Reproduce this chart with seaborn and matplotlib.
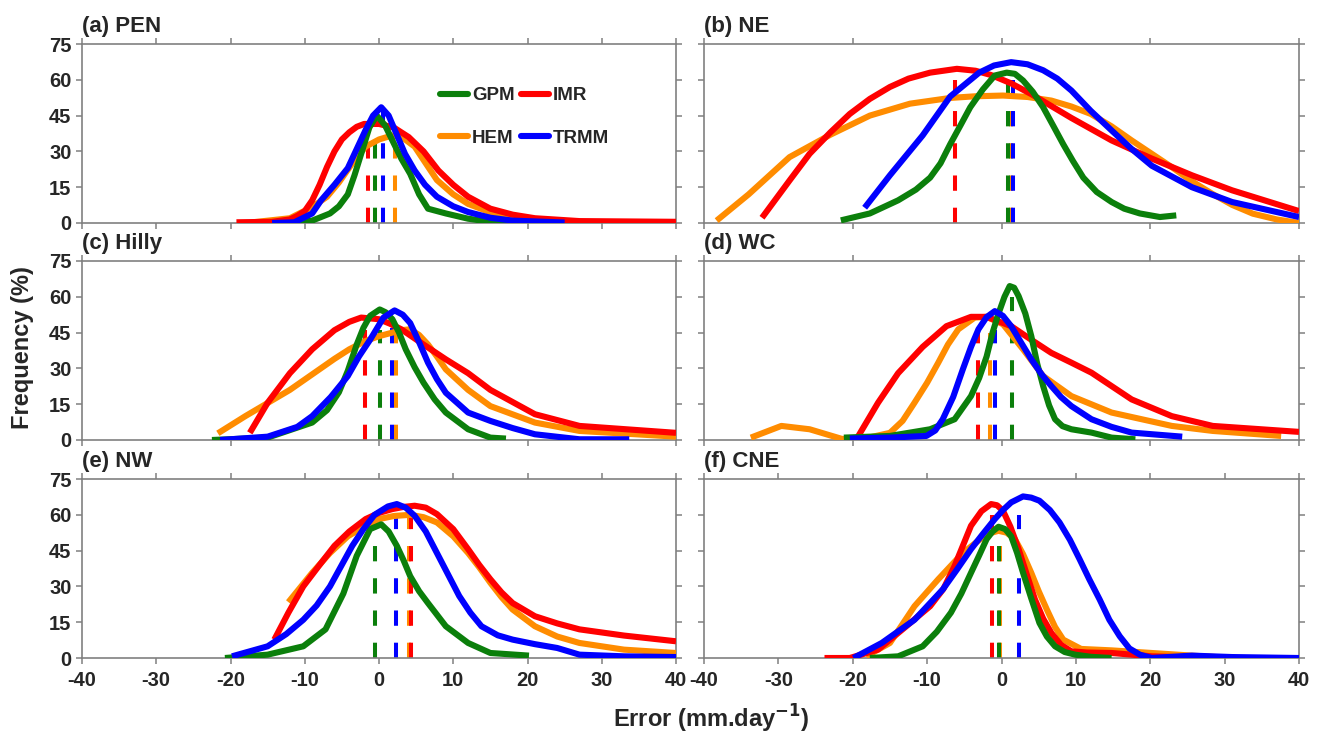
import matplotlib
matplotlib.use("Agg")
import matplotlib.pyplot as plt
import seaborn as sns
import pandas as pd
from matplotlib.lines import Line2D

# ---------------- data ----------------
regions = ["(a) PEN", "(b) NE", "(c) Hilly", "(d) WC", "(e) NW", "(f) CNE"]
products = ["HEM", "IMR", "GPM", "TRMM"]          # drawing order
legend_order = ["GPM", "HEM", "IMR", "TRMM"]
colors = {"GPM": "#0b7f0b", "IMR": "#ff0000", "HEM": "#ff8c00", "TRMM": "#0000ff"}
yticks = [0, 15, 30, 45, 60, 75]
xtick_labels = [-40, -30, -20, -10, 0, 10, 20, 30, 40]

pen = {
    "GPM": ([-11.4, -9, -6.6, -5.4, -4.2, -3.3, -2.4, -1.3, -0.3, 0.8, 1.8, 3, 4.2, 5.4, 6.6, 9, 12, 15, 18],
            [0, 1, 4, 7, 12, 20, 29, 40, 45, 41, 34.6, 27, 20.6, 12, 6, 4, 1.8, 0.5, 0]),
    "IMR": ([-19.2, -14.4, -12, -11, -10, -9, -8, -7, -6, -5, -4, -3, -2, 0, 2, 4, 6, 8, 10, 12,
             15, 18, 21, 27, 40],
            [0.3, 0.5, 1.5, 3, 5, 9.5, 16, 23.5, 30, 35, 38, 40.3, 41.5, 41.5, 40, 36, 30, 22, 16, 11,
             6, 3.5, 2, 0.8, 0.5]),
    "HEM": ([-17, -12, -9, -7, -5.4, -3.6, -1.8, 0, 1.8, 3.3, 4.8, 6.3, 7.8, 10, 12, 15, 18, 24],
            [0.3, 2, 6.7, 11, 17, 25, 32, 35, 36.7, 35.5, 32, 25, 18, 12, 8, 4.5, 2.5, 0.4]),
    "TRMM": ([-14.4, -11.4, -9, -7.8, -6, -4.2, -3, -1.8, -0.8, 0.3, 1.3, 2.4, 3.5, 4.8, 6.2, 7.8,
              10, 12, 15, 18, 25],
             [0, 0.3, 4, 9.5, 16, 23, 31, 39, 45, 48.5, 45, 37, 29, 22, 16, 11,
              7, 4.6, 2.2, 1, 0.2]),
}
ne = {
    "GPM": ([-21.6, -17.7, -13.9, -11.5, -9.6, -8.2, -6.9, -5.5, -4.2, -2.5, -0.9, 0.7, 1.8, 2.9,
             4.2, 5.6, 7, 8.3, 9.6, 11, 12.8, 14.8, 16.5, 18.6, 21.3, 23.5],
            [1.1, 4, 9.5, 14, 19, 25, 33, 41, 48.5, 56, 61.8, 63, 62.5, 59.7,
             55, 48.5, 40.5, 33, 26, 19, 13, 8.8, 6, 4, 2.5, 3.2]),
    "IMR": ([-32.2, -28.5, -25.8, -23, -20.4, -17.7, -15, -12.5, -9.6, -6, -3.5, -1.4, 1.3, 4,
             9.4, 14.8, 20.2, 25.6, 31, 40],
            [2.2, 17.8, 29, 38, 45.7, 52, 57, 60.5, 63, 64.6, 63.8, 62, 58.5, 54,
             44, 34.6, 27, 20, 13.7, 5]),
    "HEM": ([-38.3, -34, -28.5, -23, -17.7, -12.3, -6.9, -3.5, 0.2, 3.5, 6.7, 9.4, 12, 14.8,
             17.5, 20.2, 22.9, 25.6, 28.3, 31, 33.8, 37, 40],
            [1, 12, 27.6, 37, 45, 50, 52.4, 53.1, 53.4, 52.8, 51.3, 48.8, 45.7, 40.5,
             34.6, 29, 23.4, 17.5, 12.3, 7.6, 3.9, 1.5, 0]),
    "TRMM": ([-18.4, -15, -10.6, -6.9, -3, -1, 1.3, 3.5, 5.6, 7.5, 9.4, 12, 14.8, 17.5, 20.2,
              25.6, 31, 40],
             [6.4, 20, 36.7, 53, 63, 66, 67.4, 66.5, 64, 60.5, 55.5, 47, 38.8, 31, 24,
              15, 8.8, 2.5]),
}
hilly = {
    "GPM": ([-22.5, -15, -9, -7, -5.4, -4.2, -3, -2.1, -1.2, 0.1, 0.9, 1.8, 2.7, 3.6, 4.8, 6,
             7.5, 9, 12, 15, 17.1],
            [0, 1, 7.3, 12.5, 20, 29, 40, 47, 52, 54.7, 53.5, 50.6, 45, 38, 30.5, 24,
             17, 11.5, 4.5, 1, 0.6]),
    "IMR": ([-17.4, -15, -12, -9, -6, -4, -2.4, 0, 1.5, 3, 6, 9, 12, 15, 21, 27, 40],
            [3, 15.6, 28, 38, 46, 49.5, 51.3, 50.6, 48.7, 46.4, 40, 33.8, 28, 21, 10.8, 5.9, 3]),
    "HEM": ([-21.7, -18, -12, -9, -6, -4, -1.8, 0, 1.8, 3, 4.2, 5.4, 6.6, 7.8, 9, 12, 15, 21, 27, 40],
            [2.8, 10, 21, 27.5, 34, 38, 41.5, 43.5, 45, 46, 46.4, 44, 40, 35, 29.6, 21, 14.2,
             7.3, 3.8, 1.4]),
    "TRMM": ([-21.4, -15, -11, -9, -6.5, -4.2, -2.7, -1.2, 0.6, 2.1, 3.2, 4.2, 5.4, 6.6, 7.8, 9,
              12, 15, 18, 21, 27, 33.7],
             [0, 1.4, 5.5, 10, 18, 26.8, 35, 42, 51.3, 54.3, 52.5, 49, 41, 32.4, 25.5, 19.8,
              11.5, 8, 5, 2.4, 0.3, 0.3]),
}
wc = {
    "GPM": ([-21.2, -15, -9.6, -6.3, -4.1, -3, -2, -1.2, -0.4, 0.4, 1.1, 1.7, 2.3, 3.2, 4, 4.8,
             5.6, 6.4, 7.2, 8.2, 9.4, 12.1, 14.8, 18],
            [1, 1.7, 4.5, 8.7, 18.4, 26, 35, 45, 53, 60, 64.5, 63.8, 60.3, 53, 43.6, 32,
             22.6, 14.5, 8.7, 5.8, 4.5, 3.1, 1, 0.3]),
    "IMR": ([-19.3, -16.6, -13.9, -10.6, -7.4, -4.1, -2, 1.3, 4, 6.7, 9.4, 12.1, 17.5, 22.9, 28.4, 40],
            [1.4, 15.6, 28, 39, 47.7, 51.6, 51.6, 47.7, 42, 36.5, 32.4, 28.2, 17, 10, 5.9, 3.4]),
    "HEM": ([-33.7, -29.6, -25.8, -21.5, -19.3, -15, -13.3, -11.7, -10, -8.5, -7.2, -5.8, -3.6, -2,
             0.2, 2.9, 5.6, 9.4, 14.8, 22.9, 28.4, 37.6],
            [1, 5.9, 4.5, 0.5, 0, 3, 8, 15.6, 24, 32.4, 40, 46.4, 51.3, 51.6,
             48.5, 38, 26.8, 18.4, 11.5, 5.9, 3.8, 1.7]),
    "TRMM": ([-20.4, -15, -10.1, -8.9, -7.9, -6.5, -5.2, -4.1, -3.1, -2, -0.9, 0.2, 1.3, 2.6, 4,
              5.4, 6.7, 8, 9.4, 12.1, 14.8, 17.5, 24.3],
             [0.6, 1, 1.7, 4, 8.7, 18, 29.6, 39, 46.4, 51.5, 54, 52, 47.7, 41, 33.8,
              27.5, 22.6, 18, 14.2, 8.7, 5.5, 3.1, 1.4]),
}
nw = {
    "GPM": ([-20.75, -15, -10.2, -7.2, -4.8, -3, -1.2, 0.3, 1.3, 2.4, 3.3, 4.2, 5.4, 6.6, 9, 12, 15, 20.2],
            [0, 1.4, 4.9, 12, 27, 42.8, 54, 56, 53, 47, 41, 34.3, 28, 23, 13.3, 6.3, 2.1, 1]),
    "IMR": ([-14.1, -12.2, -10.2, -8, -6, -4, -1.8, 0, 1.8, 3.3, 4.8, 6.3, 7.8, 10, 12, 13.5, 15,
             16.5, 18, 21, 24, 27, 33, 40],
            [7.7, 19, 30, 39, 47, 53, 58.2, 60.8, 62.4, 63.3, 63.8, 63, 60.3, 54, 45.6, 39, 33,
             27.5, 23, 17.5, 14.5, 12, 9.4, 7]),
    "HEM": ([-12.2, -9, -6.6, -4.2, -2, 0, 2, 4.2, 6, 7.8, 10, 12, 13.5, 15, 16.5, 18, 21, 24, 27, 33, 40],
            [23.4, 35.7, 44, 51, 55, 58.2, 59.5, 60, 59, 56.8, 51, 44, 38, 31.5, 25.5, 20.3,
             13.3, 9, 6.3, 3.5, 2.1]),
    "TRMM": ([-19.8, -15, -12.5, -10.2, -8.4, -6.6, -5.1, -3.6, -2.1, -0.6, 1.2, 2.4, 3.6, 4.8,
              6.3, 7.8, 9.3, 10.8, 12.3, 13.8, 16, 18, 21, 24, 27, 33, 40],
             [0.7, 4.9, 10, 16, 22, 30, 38.5, 47, 54, 60, 63.5, 64.5, 63, 59.6,
              53, 44, 35, 26, 19, 13.3, 9.5, 7.7, 5.8, 4.2, 1.4, 0.7, 0.4]),
}
cne = {
    "GPM": ([-17.7, -13.9, -10.6, -8.7, -6.8, -5.4, -4.1, -3, -2, -1.2, -0.4, 0.5, 1.3, 2.1, 2.9,
             4, 5.1, 6.1, 7.2, 8.5, 9.9, 12, 14.8],
            [0, 0.7, 4.9, 11, 19, 27, 35.7, 43, 49.8, 53, 55, 54, 51, 44, 35.7,
             25, 14.7, 9, 4.9, 2.5, 1.4, 0.5, 0]),
    "IMR": ([-23.8, -20.4, -16.6, -12.8, -9.6, -7.8, -6.3, -5.2, -4.1, -2.7, -1.4, -0.6, 0.2, 1.2,
             2.3, 3.4, 4.5, 5.6, 6.7, 8, 9.4, 11.5, 14.8, 20.2, 28.4],
            [0, 0, 3.5, 13.3, 21.7, 29, 38.6, 47, 55.4, 61.5, 64.5, 64, 61.7, 55,
             45.6, 35, 24.5, 16.5, 10.5, 5.5, 2.8, 2.3, 2.1, 0.7, 0]),
    "HEM": ([-18.2, -15, -11.7, -8.5, -5.2, -2, -0.4, 0.7, 1.8, 2.9, 4, 5, 6.1, 7.2, 8.3, 10.7,
             14.8, 20.2, 25.6, 31],
            [0.7, 6.3, 21.7, 33, 44, 51.9, 53.3, 52.5, 49.8, 43.5, 35.7, 28, 20.3, 13, 7.7, 3.8,
             3.2, 2.1, 1, 0]),
    "TRMM": ([-19.9, -16.1, -11.7, -7.9, -6, -4.1, -2.5, -0.9, 0.2, 1.3, 2.9, 4, 5.1, 6.5, 7.8,
              9.2, 10.5, 11.8, 13.2, 14.5, 15.9, 17.2, 18.6, 20.2, 25.6, 31, 40],
             [0, 6.3, 16, 28.7, 37, 45.6, 52, 58.2, 62, 65.2, 67.7, 67.2, 65.9, 62, 56.8,
              49.5, 41.4, 33, 24.5, 16, 9.1, 4, 1.4, 0, 1, 0.4, 0]),
}

# mean error (x) and height of the dashed marker line for each product
pen_means = {"GPM": (-0.6, 44), "IMR": (-1.5, 41), "HEM": (2.1, 35), "TRMM": (0.5, 47)}
ne_means = {"GPM": (0.9, 60), "IMR": (-6.2, 60), "HEM": (1.3, 52), "TRMM": (1.5, 60)}
hilly_means = {"GPM": (0.2, 46), "IMR": (-1.9, 46), "HEM": (2.3, 45), "TRMM": (1.8, 47)}
wc_means = {"GPM": (1.4, 60), "IMR": (-3.2, 46), "HEM": (-1.5, 45), "TRMM": (-0.9, 46)}
nw_means = {"GPM": (-0.5, 55), "IMR": (4.3, 60), "HEM": (4.1, 59), "TRMM": (2.3, 61)}
cne_means = {"GPM": (-0.4, 52), "IMR": (-1.3, 60), "HEM": (-0.2, 52), "TRMM": (2.3, 60)}

curves = [pen, ne, hilly, wc, nw, cne]
means = [pen_means, ne_means, hilly_means, wc_means, nw_means, cne_means]

# ---------------- layout ----------------
W, H = 1320, 737
col_px = [(82, 594), (704, 595)]
row_px = [223, 440, 658]
ax_h = 179
minor_step = [10, 20, 20, 20, 10, 10]

sns.set_theme(style="white")
plt.rcParams["font.family"] = ["Liberation Sans", "DejaVu Sans"]
plt.rcParams["font.weight"] = "bold"
plt.rcParams["mathtext.default"] = "bf"

fig = plt.figure(figsize=(W / 100, H / 100), dpi=100)
fig.patch.set_facecolor("white")

rows = []
for name, cd in zip(regions, curves):
    for p in products:
        xs, ys = cd[p]
        for x, y in zip(xs, ys):
            rows.append({"region": name, "product": p, "x": x, "y": y})
df = pd.DataFrame(rows)

spine_c = "#808080"
for i, name in enumerate(regions):
    r, c = divmod(i, 2)
    lx, lw = col_px[c]
    ax = fig.add_axes([lx / W, 1 - row_px[r] / H, lw / W, ax_h / H])
    ax.set_facecolor("white")

    # mean dashed lines (below curves)
    for p in products:
        m, h = means[i][p]
        ax.vlines(m, 0, h, colors=colors[p], linestyles=(0, (3.8, 4.2)), lw=2.9, zorder=1)

    sub = df[df["region"] == name]
    for p in products:
        sns.lineplot(data=sub[sub["product"] == p], x="x", y="y", color=colors[p],
                     estimator=None, sort=False, lw=4.4, ax=ax, legend=False, zorder=3,
                     solid_joinstyle="round", solid_capstyle="butt")

    ax.set_xlim(-40, 40)
    ax.set_ylim(0, 75)
    ax.set_xlabel("")
    ax.set_ylabel("")
    ax.set_yticks(yticks)
    ax.set_xticks(list(range(-40, 41, minor_step[i])))
    for s in ax.spines.values():
        s.set_color(spine_c)
        s.set_linewidth(1.2)
        s.set_visible(True)
    ax.tick_params(axis="both", which="both", direction="out", length=4.5, width=1.1,
                   color=spine_c, top=True, right=True, bottom=True, left=True,
                   labelsize=14.5, pad=3)
    if c == 0:
        ax.set_yticklabels([str(v) for v in yticks], fontweight="bold")
    else:
        ax.set_yticklabels([])
    if r == 2:
        ax.set_xticks(xtick_labels)
        ax.set_xticklabels([str(v) for v in xtick_labels], fontweight="bold")
        ax.tick_params(axis="x", pad=5)
    else:
        ax.set_xticklabels([])
    ax.text(0.0, 1.04, name, transform=ax.transAxes, ha="left", va="bottom",
            fontsize=16, fontweight="bold")

    if i == 0:
        handles = [Line2D([0], [0], color=colors[p], lw=4.4) for p in legend_order]
        ax.legend(handles, legend_order, ncol=2, loc="upper left",
                  bbox_to_anchor=(0.59, 0.8), frameon=False, handlelength=1.5,
                  handletextpad=0.2, columnspacing=0.35, labelspacing=1.35,
                  borderaxespad=0, prop={"size": 13.5, "weight": "bold"})

fig.text(0.017, 0.528, "Frequency (%)", rotation=90, ha="center", va="center",
         fontsize=17, fontweight="bold")
fig.text(0.539, 0.024, r"Error (mm.day$^{-1}$)", ha="center", va="center",
         fontsize=17, fontweight="bold")

fig.savefig("out.png", dpi=100, facecolor="white")
